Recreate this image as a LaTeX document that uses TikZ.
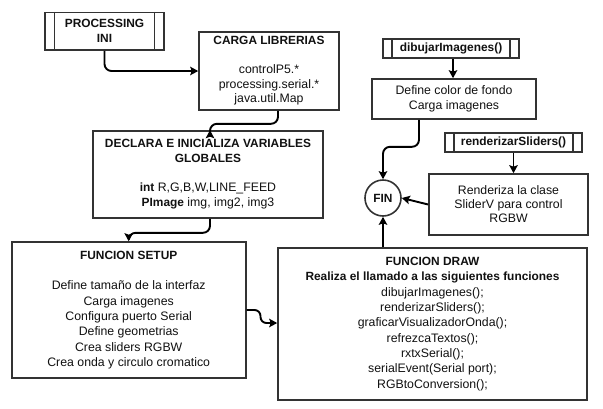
\documentclass[tikz,border=0pt]{standalone}
\usepackage{fontspec}
\setmainfont{Liberation Sans}
\usetikzlibrary{arrows.meta,calc}
\definecolor{bcol}{HTML}{333333}
\definecolor{tcol}{HTML}{111111}
\newcommand{\bt}[1]{{\bfseries\fontsize{11.9}{15}\selectfont #1}}
\begin{document}
\begin{tikzpicture}[x=1pt,y=-1pt,
  box/.style={draw=bcol, line width=1.6pt, fill=white, align=center, inner sep=0pt, text=tcol,
    font=\fontsize{12.3}{15}\selectfont},
  conn/.style={draw=black, line width=1.9pt, rounded corners=7pt,
    -{Stealth[length=8pt,width=8.5pt,inset=1.5pt]}},
  finnode/.style={draw=bcol, line width=1.6pt, circle, minimum size=36pt, inner sep=0pt,
    font=\bfseries\fontsize{11.9}{15}\selectfont, text=tcol}
]
\useasboundingbox (0,0) rectangle (603,408);

% nodes
\node[box, minimum width=118.5pt, minimum height=37.5pt, font=\bfseries\fontsize{11.9}{15}\selectfont] (pini) at (104.5,31.3) {PROCESSING\\INI};
\draw[bcol, line width=1.6pt] ($(pini.north west)+(10,0)$) -- ($(pini.south west)+(10,0)$)
  ($(pini.north east)+(-10,0)$) -- ($(pini.south east)+(-10,0)$);

\node[box, minimum width=140pt, minimum height=78pt, font=\fontsize{12.3}{14.5}\selectfont] (carga) at (269,71)
  {\bt{CARGA LIBRERIAS}\\[14.5pt]controlP5.*\\processing.serial.*\\java.util.Map};

\node[box, minimum width=230pt, minimum height=87pt] (declara) at (208,174.5)
  {\bt{DECLARA E INICIALIZA VARIABLES}\\\bt{GLOBALES}\\[14pt]\bt{int} R,G,B,W,LINE\_FEED\\\bt{PImage} img, img2, img3};

\node[box, minimum width=234pt, minimum height=136pt, font=\fontsize{12.3}{15.3}\selectfont] (setup) at (128.7,310)
  {\bt{FUNCION SETUP}\\[15.3pt]Define tamaño de la interfaz\\Carga imagenes\\Configura puerto Serial\\Define geometrias\\Crea sliders RGBW\\Crea onda y circulo cromatico};

\node[box, minimum width=309pt, minimum height=152pt, font=\fontsize{12.3}{15.3}\selectfont] (fdraw) at (432.5,324)
  {\bt{FUNCION DRAW}\\\bt{Realiza el llamado a las siguientes funciones}\\dibujarImagenes();\\renderizarSliders();\\graficarVisualizadorOnda();\\refrezcaTextos();\\rxtxSerial();\\serialEvent(Serial port);\\RGBtoConversion();};

\node[box, minimum width=136pt, minimum height=19pt, font=\bfseries\fontsize{11.9}{15}\selectfont] (dibujar) at (451,48.5) {dibujarImagenes()};
\draw[bcol, line width=1.6pt] ($(dibujar.north west)+(10,0)$) -- ($(dibujar.south west)+(10,0)$)
  ($(dibujar.north east)+(-10,0)$) -- ($(dibujar.south east)+(-10,0)$);

\node[box, minimum width=164pt, minimum height=40pt, font=\fontsize{12.3}{14.5}\selectfont] (define) at (454,99)
  {Define color de fondo\\Carga imagenes};

\node[box, minimum width=137pt, minimum height=19pt, font=\bfseries\fontsize{11.9}{15}\selectfont] (rendsl) at (513.5,142.5) {renderizarSliders()};
\draw[bcol, line width=1.6pt] ($(rendsl.north west)+(10,0)$) -- ($(rendsl.south west)+(10,0)$)
  ($(rendsl.north east)+(-10,0)$) -- ($(rendsl.south east)+(-10,0)$);

\node[box, minimum width=159pt, minimum height=61pt, font=\fontsize{12.3}{14}\selectfont] (rend) at (508.5,204.5)
  {Renderiza la clase\\SliderV para control\\RGBW};

\node[finnode] (fin) at (383,198) {FIN};

% connectors
\draw[conn] (pini.south) |- (carga.west);
\draw[conn] ([xshift=9pt]carga.south) -- ++(0,13) -| ([xshift=2pt]declara.north);
\draw[conn] ([xshift=2pt]declara.south) -- ++(0,14) -| (setup.north);
\draw[conn, rounded corners=6pt] (setup.east) -- ++(14,0) |- ([yshift=1pt]fdraw.west);
\draw[conn] ([xshift=2pt]dibujar.south) -- ([xshift=2pt]dibujar.south |- define.north);
\draw[conn] ([xshift=-35pt]define.south) -- ++(0,27) -| (fin.north);
\draw[conn] (rendsl.south) -- (rendsl.south |- rend.north);
\draw[conn] (rend.west) -- (fin.east);
\draw[conn] (fin.south |- fdraw.north) -- (fin.south);
\end{tikzpicture}
\end{document}
